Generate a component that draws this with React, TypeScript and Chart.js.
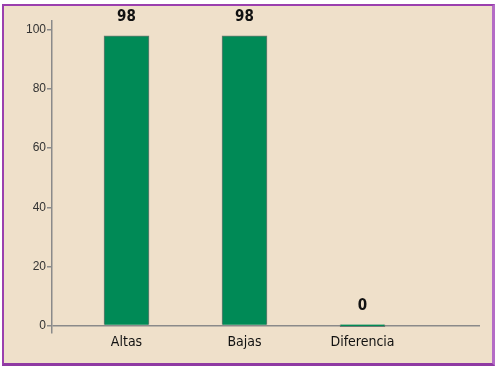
import React, { useEffect, useRef } from "react";
import { Chart, registerables } from "chart.js";

Chart.register(...registerables);

const categories = ["Altas", "Bajas", "Diferencia"];
const values = [98, 98, 0];
const yTicks = [0, 20, 40, 60, 80, 100];

const NARROW = "'DejaVu Sans Condensed', 'Liberation Sans Narrow', sans-serif";

const valueLabels = {
  id: "valueLabels",
  afterDatasetsDraw(chart: any) {
    const ctx = chart.ctx;
    const meta = chart.getDatasetMeta(0);
    ctx.save();
    ctx.font = `bold 15px ${NARROW}`;
    ctx.fillStyle = "#111111";
    ctx.textAlign = "center";
    ctx.textBaseline = "bottom";
    meta.data.forEach((el: any, i: number) => {
      ctx.fillText(String(values[i]), el.x, Math.min(el.y, el.base) - 11);
    });
    ctx.restore();
  },
};

export default function App() {
  const ref = useRef<HTMLCanvasElement | null>(null);
  useEffect(() => {
    document.body.style.margin = "0";
    const chart = new Chart(ref.current!, {
      type: "bar",
      data: {
        datasets: [
          {
            data: values.map((v, i) => ({ x: i + 1, y: v })),
            backgroundColor: "#008a56",
            borderColor: "#6f7a72",
            borderWidth: 1,
            barThickness: 45,
            minBarLength: 2,
          },
        ],
      },
      plugins: [valueLabels],
      options: {
        animation: false,
        responsive: false,
        maintainAspectRatio: false,
        layout: { padding: { top: 21, right: 16, left: 0, bottom: 0 } },
        plugins: { legend: { display: false }, tooltip: { enabled: false } },
        scales: {
          x: {
            type: "linear",
            offset: false,
            min: 0.3686,
            max: 3.9957,
            grid: { display: false, drawTicks: false },
            border: { display: false },
            afterBuildTicks: (scale: any) => {
              scale.ticks = categories.map((_, i) => ({ value: i + 1 }));
            },
            afterFit: (scale: any) => {
              scale.height = 35;
            },
            ticks: {
              padding: 1,
              maxRotation: 0,
              autoSkip: false,
              color: "#111111",
              font: { family: NARROW, size: 14 },
              callback: (v: any) => categories[Math.round(Number(v)) - 1] ?? "",
            },
          },
          y: {
            type: "linear",
            min: -2.5,
            max: 103,
            afterBuildTicks: (scale: any) => {
              scale.ticks = yTicks.map((v) => ({ value: v }));
            },
            afterFit: (scale: any) => {
              scale.width = 52;
            },
            grid: {
              color: (c: any) => (c.tick && c.tick.value === 0 ? "#8a8a8a" : "rgba(0,0,0,0)"),
              tickColor: "#8a8a8a",
              tickLength: 5,
              lineWidth: 1.5,
            },
            border: { display: true, color: "#8a8a8a", width: 1.5 },
            ticks: {
              padding: 1,
              color: "#333333",
              font: { family: "'Liberation Sans', Arial, sans-serif", size: 12 },
            },
          },
        },
      },
    });
    return () => chart.destroy();
  }, []);

  return (
    <div style={{ position: "relative", width: 496, height: 368, background: "#ffffff" }}>
      <div
        style={{
          position: "absolute",
          left: 2,
          top: 4,
          width: 488,
          height: 357,
          background: "#efe0ca",
          border: "2px solid #9b3fae",
          borderRight: "3px solid #b46cc6",
          borderBottom: "3px solid #8f3aa3",
        }}
      />
      <canvas
        ref={ref}
        width={496}
        height={368}
        style={{ position: "absolute", left: 0, top: 0, width: 496, height: 368 }}
      />
    </div>
  );
}
